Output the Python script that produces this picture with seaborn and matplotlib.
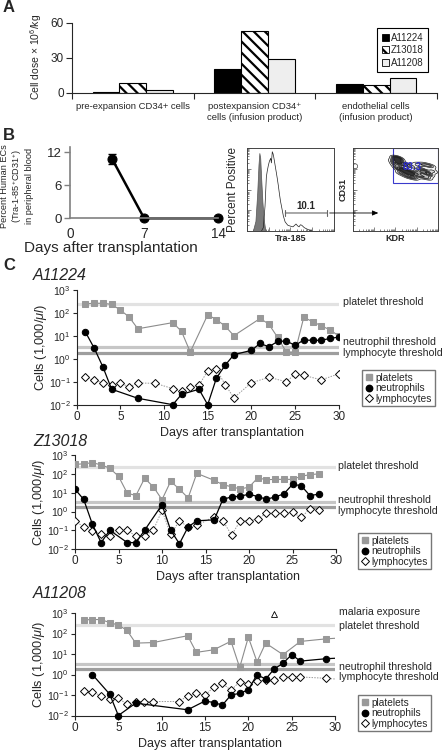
import numpy as np
import pandas as pd
import matplotlib
matplotlib.use("Agg")
import matplotlib.pyplot as plt
import seaborn as sns
from matplotlib.patches import Patch, Rectangle, ConnectionPatch
from matplotlib.lines import Line2D
from matplotlib.ticker import LogLocator, NullLocator, FixedLocator

sns.set_style("ticks")
plt.rcParams['font.family'] = ['Liberation Sans', 'DejaVu Sans']
plt.rcParams['mathtext.fontset'] = 'custom'
plt.rcParams['mathtext.rm'] = 'Liberation Sans'
plt.rcParams['mathtext.it'] = 'Liberation Sans:italic'
plt.rcParams['hatch.linewidth'] = 1.6

W, H = 442, 753

# ---------------- panel A: infused cell doses
cell_types = ["pre-expansion CD34+ cells",
              "postexpansion CD34\u207a\ncells (infusion product)",
              "endothelial cells\n(infusion product)"]
animals = ["A11224", "Z13018", "A11208"]
dose_A11224 = [1, 20, 7.5]
dose_Z13018 = [8, 52.5, 7]
dose_A11208 = [2, 28.5, 13]

# ---------------- panel B: human ECs in blood + flow plots
ec_days = [4, 7, 14]
ec_pct = [10.7, 0, 0]
ec_err = [0.9, 0, 0]

iso_x = [7, 10, 12, 13.5, 14.5, 15.5, 16.5, 18, 19.5, 21, 22]
iso_y = [0, 12, 45, 80, 94, 88, 65, 35, 14, 3, 0]
stain_x = [17, 19, 21, 22.5, 23.5, 24.8, 26, 27.5, 28.3, 29.3, 30.2, 30.9, 31.8, 32.8, 34, 35,
           36.2, 37.4, 38.7, 40, 42, 44, 47, 49.6, 53, 56.5, 58.5, 60, 61.5, 63, 66, 69, 72, 75]
stain_y = [0, 4, 30, 65, 72, 79, 84, 87.6, 82, 95.5, 93, 89.5, 84, 77.5, 70, 63.5,
           55, 45.4, 36, 29, 18, 11, 7, 6, 5, 8.4, 6, 5, 7.5, 7, 4, 2.4, 1, 0]
kdr_events = [48, 50, 52, 55, 53, 58, 62, 66, 70, 74, 78, 82, 86, 90, 94, 60, 68, 76,
              84, 92, 56, 64, 72, 80, 88, 51, 54]
cd31_events = [84, 80, 86, 82, 76, 74, 72, 70, 68, 70, 72, 74, 70, 68, 72, 80, 78, 80,
               80, 78, 70, 66, 64, 66, 64, 88, 87]
kdr_outlier = [3]
cd31_outlier = [78]

# ---------------- panel C: blood counts (1,000/ul)
days_plt_1 = [1, 2, 3, 4, 5, 6, 7, 11, 12, 13, 15, 16, 17, 18, 21, 22, 23, 24, 25, 26, 27, 28, 29, 30]
plt_1 = [245, 257, 257, 229, 131, 65, 20, 37, 15.5, 1.95, 81, 50, 26, 10, 56, 32, 8.5, 1.95, 1.95,
         63, 41, 27, 18, 9.8]
days_neu_1 = [1, 2, 3, 4, 7, 11, 12, 14, 15, 16, 17, 18, 20, 21, 22, 23, 24, 25, 26, 27, 28, 29, 30]
neu_1 = [14.4, 2.9, 0.44, 0.047, 0.019, 0.01, 0.028, 0.047, 0.01, 0.144, 0.52, 1.5, 2.3, 4.6, 3.3,
         5.6, 5.9, 3.8, 6.5, 6.3, 6.3, 7.6, 8.7]
days_lym_1 = [1, 2, 3, 4, 5, 6, 7, 9, 11, 12, 13, 14, 15, 16, 17, 18, 20, 22, 24, 25, 26, 28, 30]
lym_1 = [0.155, 0.115, 0.091, 0.072, 0.088, 0.059, 0.088, 0.085, 0.05, 0.039, 0.059, 0.069, 0.30,
         0.35, 0.074, 0.02, 0.09, 0.155, 0.10, 0.21, 0.19, 0.12, 0.22]

days_plt_2 = list(range(0, 15)) + list(range(16, 29))
plt_2 = [325, 354, 400, 310, 204, 76, 9.6, 7.1, 59, 21, 4.3, 41, 15.6, 5.3, 109,
         46, 27, 21, 16, 20, 62, 50, 52, 52, 52, 76, 93, 102]
days_neu_2 = [0, 1, 2, 3, 4, 6, 7, 8, 10, 11, 12, 13, 14, 16, 17, 18, 19, 20, 21, 22, 23, 24, 25, 26, 27, 28]
neu_2 = [15.6, 4.4, 0.21, 0.022, 0.10, 0.022, 0.022, 0.10, 2.3, 0.10, 0.019, 0.15, 0.32, 0.36,
         4.5, 6.0, 6.6, 8.4, 6.3, 4.5, 6.0, 8.7, 28, 24, 7.1, 8.4]
days_lym_2 = list(range(0, 15)) + list(range(16, 29))
lym_2 = [0.32, 0.15, 0.09, 0.065, 0.049, 0.1, 0.1, 0.049, 0.05, 0.1, 1.15, 0.06, 0.32, 0.15, 0.18,
         0.54, 0.32, 0.055, 0.32, 0.32, 0.4, 0.8, 0.8, 0.85, 0.9, 0.48, 1.4, 1.24]

days_plt_3 = [1, 2, 3, 4, 5, 6, 7, 9, 13, 14, 16, 18, 19, 20, 21, 22, 24, 26, 29, 31]
plt_3 = [460, 480, 480, 340, 260, 142, 34, 36, 78, 12, 16, 42, 2.2, 66, 4.2, 34, 9.3, 41, 55, 62]
days_neu_3 = [2, 4, 5, 7, 13, 15, 16, 17, 18, 19, 20, 21, 22, 23, 24, 25, 26, 29, 31]
neu_3 = [1.0, 0.11, 0.01, 0.04, 0.019, 0.051, 0.043, 0.032, 0.1, 0.12, 0.18, 0.98, 0.6, 1.9, 3.5,
         9.3, 4.5, 5.9, 6.5]
days_lym_3 = [1, 2, 3, 4, 5, 6, 7, 8, 9, 12, 13, 14, 15, 16, 17, 18, 19, 20, 21, 22, 23, 24, 25, 26, 29, 31]
lym_3 = [0.155, 0.14, 0.093, 0.064, 0.069, 0.036, 0.048, 0.048, 0.048, 0.048, 0.091, 0.12, 0.098,
         0.24, 0.37, 0.17, 0.45, 0.35, 0.5, 0.52, 0.54, 0.76, 0.76, 0.76, 0.65, 0.56]
malaria_day = [23]
malaria_level = [850]

threshold_names = ["platelet threshold", "neutrophil threshold", "lymphocyte threshold"]
threshold_values = [250, 3.2, 1.8]
threshold_colors = ["#e2e2e2", "#c6c6c6", "#9e9e9e"]


def rect_px(x0, y0, x1, y1):
    return [x0 / W, 1 - y1 / H, (x1 - x0) / W, (y1 - y0) / H]


fig = plt.figure(figsize=(W / 100, H / 100), dpi=100)


def fig_text(x, y, s, **kw):
    fig.text(x / W, 1 - y / H, s, **kw)


# ================= A
ax_a = fig.add_axes(rect_px(72, 22.7, 437, 92.7))
df_a = pd.DataFrame({
    "cell": cell_types * 3,
    "animal": np.repeat(animals, 3),
    "dose": dose_A11224 + dose_Z13018 + dose_A11208,
})
bar_colors = ["black", "white", "#eeeeee"]
sns.barplot(data=df_a, x="cell", y="dose", hue="animal", order=cell_types, hue_order=animals,
            palette=bar_colors, width=0.66, gap=0, edgecolor="black", linewidth=0.8,
            saturation=1, errorbar=None, legend=False, ax=ax_a)
for cont, hatch in zip(ax_a.containers, ["", "\\\\\\", ""]):
    for bar in cont:
        bar.set_hatch(hatch)
ax_a.set_xlim(-0.5, 2.5)
ax_a.set_ylim(0, 60)
ax_a.set_yticks([0, 30, 60])
ax_a.set_xticks([0, 1, 2])
ax_a.set_xticklabels(cell_types, fontsize=6.8)
ax_a.xaxis.set_minor_locator(FixedLocator([-0.5, 0.5, 1.5, 2.5]))
ax_a.tick_params(axis="x", which="major", length=0, pad=7)
ax_a.tick_params(axis="x", which="minor", length=4, width=0.8)
ax_a.tick_params(axis="y", labelsize=8.5, length=4, width=0.8, pad=2)
ax_a.set_xlabel("")
ax_a.set_ylabel("")
sns.despine(ax=ax_a)
for sp in ax_a.spines.values():
    sp.set_linewidth(0.8)
fig_text(36, 57, "Cell dose \u00d7 10$^{6}$/kg", rotation=90, ha="center", va="center", fontsize=7.5)
handles_a = [Patch(facecolor=c, edgecolor="black", hatch=h, linewidth=0.6)
             for c, h in zip(bar_colors, ["", "\\\\\\", ""])]
leg_a = ax_a.legend(handles_a, animals, loc="upper right", bbox_to_anchor=(433 / W, 1 - 23 / H),
                    bbox_transform=fig.transFigure, fontsize=7, handlelength=0.7, handleheight=0.7,
                    handletextpad=0.2, labelspacing=0.25, borderpad=0.5, fancybox=False,
                    framealpha=1, edgecolor="black")
leg_a.get_frame().set_linewidth(0.8)

# ================= B left
ax_b = fig.add_axes(rect_px(70, 146.8, 218.3, 218.3))
sns.lineplot(x=ec_days, y=ec_pct, ax=ax_b, color="black", marker="o", markersize=6.5,
             markeredgecolor="black", linewidth=1.8, clip_on=False)
ax_b.errorbar(ec_days, ec_pct, yerr=ec_err, fmt="none", ecolor="black", capsize=3, elinewidth=1)
ax_b.set_xlim(0, 14)
ax_b.set_ylim(0, 13)
ax_b.set_xticks([0, 7, 14])
ax_b.set_yticks([0, 6, 12])
ax_b.tick_params(axis="x", length=0, pad=6, labelsize=9.8)
ax_b.tick_params(axis="y", length=4, width=1, color="#808080", labelsize=9.5, pad=2)
sns.despine(ax=ax_b)
for s in ["left", "bottom"]:
    ax_b.spines[s].set_color("#808080")
    ax_b.spines[s].set_linewidth(1.2)
fig_text(111, 248, "Days after transplantation", ha="center", va="center", fontsize=11)
fig_text(17, 186, "Percent Human ECs\n(Tra-1-85$^{+}$CD31$^{+}$)\nin peripheral blood", rotation=90,
         ha="center", va="center", fontsize=6.6, linespacing=1.1)


def flow_ticks(ax):
    ax.set_xlim(0, 100)
    ax.set_ylim(0, 100)
    minor = [25 * (d + np.log10(k)) for d in range(4) for k in range(2, 10)]
    ax.set_xticks([0, 25, 50, 75, 100])
    ax.set_yticks([0, 25, 50, 75, 100])
    ax.xaxis.set_minor_locator(FixedLocator(minor))
    ax.yaxis.set_minor_locator(FixedLocator(minor))
    ax.tick_params(which="both", direction="in", labelleft=False, labelbottom=False,
                   width=0.5, color="#555555")
    ax.tick_params(which="major", length=3)
    ax.tick_params(which="minor", length=1.5)
    for sp in ax.spines.values():
        sp.set_linewidth(0.7)
        sp.set_color("#444444")


# ================= B histogram
ax_h = fig.add_axes(rect_px(246.7, 148, 334, 231))
ax_h.fill_between(iso_x, iso_y, color="#7a7a7a", linewidth=0.5, edgecolor="#555555")
sns.lineplot(x=stain_x, y=stain_y, ax=ax_h, color="#222222", linewidth=0.5, sort=False)
flow_ticks(ax_h)
ax_h.annotate("", xy=(41, 21.7), xytext=(95, 21.7),
              arrowprops=dict(arrowstyle="|-|,widthA=0.25,widthB=0.25", color="#666666", lw=0.8))
ax_h.text(68, 30, "10.1", ha="center", va="center", fontsize=7, fontweight="bold")
ax_h.set_xlabel("Tra-185", fontsize=6.5, fontweight="bold", labelpad=2)
fig_text(233, 190, "Percent Positive", rotation=90, ha="center", va="center", fontsize=8.5)

# ================= B contour
ax_k = fig.add_axes(rect_px(352.7, 148, 438, 231))
sns.kdeplot(x=kdr_events, y=cd31_events, ax=ax_k, fill=True, cmap="Greys", levels=7,
            thresh=0.08, bw_adjust=0.55)
sns.kdeplot(x=kdr_events, y=cd31_events, ax=ax_k, color="#222222", levels=7,
            thresh=0.08, bw_adjust=0.55, linewidths=0.5)
ax_k.scatter(kdr_outlier, cd31_outlier, s=12, facecolor="none", edgecolor="#444444", linewidth=0.5)
ax_k.add_patch(Rectangle((47, 58), 53, 42, fill=False, edgecolor="#3a3acc", linewidth=0.8))
ax_k.text(70.3, 77.5, "83.3", ha="center", va="center", fontsize=7, fontweight="bold", color="#2a2acc")
flow_ticks(ax_k)
ax_k.set_xlabel("KDR", fontsize=6.5, fontweight="bold", labelpad=2)
ax_k.set_ylabel("CD31", fontsize=6.5, fontweight="bold", labelpad=4)
fig.add_artist(ConnectionPatch(xyA=(95, 21.7), coordsA=ax_h.transData,
                               xyB=(30, 21.7), coordsB=ax_k.transData,
                               arrowstyle="-|>,head_length=0.35,head_width=0.15", color="black", lw=0.6))

# ================= C panels
panels = [
    dict(rect=(76.7, 289.7, 338.7, 404.7), name="A11224", title_y=276,
         data=(days_plt_1, plt_1, days_neu_1, neu_1, days_lym_1, lym_1),
         text_x=343, text_y=[301.7, 342, 353], xlabel=(232, 433), legend=(357, 365)),
    dict(rect=(75, 455.3, 336, 549), name="Z13018", title_y=441,
         data=(days_plt_2, plt_2, days_neu_2, neu_2, days_lym_2, lym_2),
         text_x=338, text_y=[465.7, 500, 510.5], xlabel=(228, 577), legend=(353, 528)),
    dict(rect=(75, 613, 335, 715.5), name="A11208", title_y=594,
         data=(days_plt_3, plt_3, days_neu_3, neu_3, days_lym_3, lym_3),
         text_x=339, text_y=[626, 666.7, 677], xlabel=(210, 744), legend=(353, 690)),
]

for i, p in enumerate(panels):
    ax = fig.add_axes(rect_px(*p["rect"]))
    dp, vp, dn, vn, dl, vl = p["data"]
    for val, col in zip(threshold_values, threshold_colors):
        ax.axhline(val, color=col, linewidth=2.3, zorder=1)
    sns.lineplot(x=dp, y=vp, ax=ax, color="#8c8c8c", linewidth=0.8, marker="s", markersize=4.6,
                 markerfacecolor="#999999", markeredgecolor="#999999", zorder=3)
    sns.lineplot(x=dl, y=vl, ax=ax, color="#999999", linewidth=0.7, linestyle=(0, (1.5, 1.3)),
                 marker="D", markersize=4.2, markerfacecolor="white", markeredgecolor="black",
                 markeredgewidth=0.7, zorder=4)
    sns.lineplot(x=dn, y=vn, ax=ax, color="black", linewidth=0.9, marker="o", markersize=4.6,
                 markeredgecolor="black", zorder=5)
    if i == 2:
        ax.plot(malaria_day, malaria_level, marker="^", markersize=5, markerfacecolor="white",
                markeredgecolor="black", markeredgewidth=0.6, linestyle="none", clip_on=False)
    ax.set_yscale("log")
    ax.set_xlim(0, 30)
    ax.set_ylim(1e-2, 1e3)
    ax.yaxis.set_major_locator(LogLocator(base=10, numticks=10))
    ax.yaxis.set_minor_locator(NullLocator())
    ax.set_xticks(range(0, 31, 5))
    clip = Rectangle((0, -0.08), 1, 1.2, transform=ax.transAxes, visible=False)
    for ln in ax.lines:
        if ln.get_linewidth() < 2:
            ln.set_clip_path(clip)
    ax.tick_params(axis="x", length=3, width=0.8, labelsize=8.5, pad=1.5)
    ax.tick_params(axis="y", length=3, width=0.8, labelsize=7.6, pad=1.5)
    ax.set_xlabel("")
    ax.set_ylabel("")
    sns.despine(ax=ax)
    for s in ["left", "bottom"]:
        ax.spines[s].set_linewidth(0.8)
    y0, y1 = p["rect"][1], p["rect"][3]
    fig_text(33, p["title_y"], p["name"], ha="left", va="center", fontsize=11.5, style="italic")
    fig_text(p["rect"][0] - 36, (y0 + y1) / 2, "Cells (1,000/$\\mathit{\\mu l}$)", rotation=90,
             ha="center", va="center", fontsize=9.2)
    fig_text(p["xlabel"][0], p["xlabel"][1], "Days after transplantation", ha="center",
             va="center", fontsize=9)
    for name, ty in zip(threshold_names, p["text_y"]):
        fig_text(p["text_x"], ty, name, ha="left", va="center", fontsize=7.6)
    if i == 2:
        fig_text(p["text_x"], 612, "malaria exposure", ha="left", va="center", fontsize=7.6)
    handles_c = [
        Line2D([], [], linestyle="none", marker="s", markersize=4.6, color="#999999"),
        Line2D([], [], linestyle="none", marker="o", markersize=4.6, color="black"),
        Line2D([], [], linestyle="none", marker="D", markersize=4.2, markerfacecolor="white",
               markeredgecolor="black", markeredgewidth=0.7),
    ]
    lx, ly = p["legend"]
    leg = ax.legend(handles_c, ["platelets", "neutrophils", "lymphocytes"], loc="upper left",
                    bbox_to_anchor=(lx / W, 1 - ly / H), bbox_transform=fig.transFigure,
                    fontsize=7.3, handlelength=0.8, handletextpad=0.3, labelspacing=0.05,
                    borderpad=0.25, fancybox=False, framealpha=1, edgecolor="#777777")
    leg.get_frame().set_linewidth(1.0)

# panel letters
fig_text(3, 7, "A", fontsize=12, fontweight="bold", ha="left", va="center")
fig_text(3, 136, "B", fontsize=12, fontweight="bold", ha="left", va="center")
fig_text(3, 265, "C", fontsize=12, fontweight="bold", ha="left", va="center")

fig.savefig("out.png", dpi=100)
